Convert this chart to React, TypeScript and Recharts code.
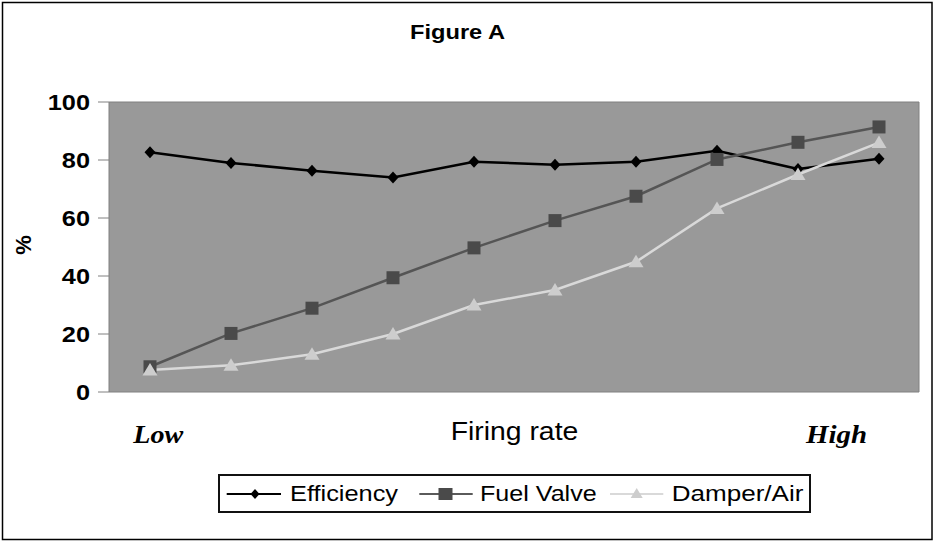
import React from 'react';
import { LineChart, Line, XAxis, YAxis, CartesianGrid, Legend, Customized } from 'recharts';

const categories = ['1', '2', '3', '4', '5', '6', '7', '8', '9', '10'];
const efficiency = [82.7, 79, 76.3, 74, 79.4, 78.4, 79.4, 83.2, 76.9, 80.4];
const fuelValve = [8.7, 20.2, 28.9, 39.4, 49.7, 59.1, 67.5, 80.2, 86.1, 91.4];
const damperAir = [7.6, 9.2, 13, 20, 30, 35.2, 44.9, 63.3, 75, 86];
const yTicks = [0, 20, 40, 60, 80, 100];
const seriesNames = ['Efficiency', 'Fuel Valve', 'Damper/Air'];
const seriesKeys = ['eff', 'fuel', 'damper'];

const data = categories.map((c, i) => ({
  cat: c,
  eff: efficiency[i],
  fuel: fuelValve[i],
  damper: damperAir[i],
}));

const SANS = '"Liberation Sans", Arial, sans-serif';
const SERIF = '"Liberation Serif", "Times New Roman", serif';

const Diamond = ({ cx, cy }: any) =>
  cx == null ? null : (
    <path d={`M${cx},${cy - 6}L${cx + 5.5},${cy}L${cx},${cy + 6}L${cx - 5.5},${cy}Z`} fill="#000" />
  );
const Square = ({ cx, cy }: any) =>
  cx == null ? null : <rect x={cx - 6.5} y={cy - 6.5} width={13} height={13} fill="#4a4a4a" />;
const Triangle = ({ cx, cy }: any) =>
  cx == null ? null : (
    <path d={`M${cx},${cy - 7}L${cx + 7.5},${cy + 5.5}L${cx - 7.5},${cy + 5.5}Z`} fill="#cdcdcd" />
  );

const YTick = ({ x, y, payload }: any) => (
  <g transform={`translate(${x},${y + 8}) scale(1.15,1)`}>
    <text x={0} y={0} textAnchor="end" fontFamily={SANS} fontWeight="bold" fontSize={22} fill="#000">
      {payload.value}
    </text>
  </g>
);

const legendLayout: Record<string, any> = {
  eff: { l1: 8.7, l2: 63, m: 37, tx: 72, tw: 108, stroke: '#000' },
  fuel: { l1: 201.3, l2: 254.7, m: 227.5, tx: 262, tw: 116.7, stroke: '#5a5a5a' },
  damper: { l1: 392, l2: 445.3, m: 418.7, tx: 453.7, tw: 131.7, stroke: '#d9d9d9' },
};

const legendMarker = (key: string, cx: number, cy: number) => {
  if (key === 'eff') return <path d={`M${cx},${cy - 5}L${cx + 4.5},${cy}L${cx},${cy + 5}L${cx - 4.5},${cy}Z`} fill="#000" />;
  if (key === 'fuel') return <rect x={cx - 7} y={cy - 6} width={14} height={12} fill="#4a4a4a" />;
  return <path d={`M${cx},${cy - 6}L${cx + 6},${cy + 4}L${cx - 6},${cy + 4}Z`} fill="#cdcdcd" />;
};

const renderLegend = (props: any) => {
  const payload = props.payload || [];
  return (
    <svg width={593} height={39} style={{ display: 'block' }}>
      <rect x={1} y={1} width={591} height={37} fill="#fff" stroke="#111" strokeWidth={2} />
      {payload.map((entry: any, i: number) => {
        const key = String(entry.dataKey);
        const L = legendLayout[key];
        if (!L) return null;
        return (
          <g key={key}>
            <line x1={L.l1} x2={L.l2} y1={20} y2={20} stroke={L.stroke} strokeWidth={2} />
            {legendMarker(key, L.m, 20)}
            <text
              x={L.tx}
              y={27}
              fontFamily={SANS}
              fontSize={22}
              fill="#000"
              textLength={L.tw}
              lengthAdjust="spacingAndGlyphs"
            >
              {entry.value}
            </text>
          </g>
        );
      })}
    </svg>
  );
};

const Annotations = () => (
  <g>
    <rect x={2.5} y={2.5} width={929.5} height={537} fill="none" stroke="#000" strokeWidth={1.5} />
    <text x={410} y={39.3} fontFamily={SANS} fontWeight="bold" fontSize={20} fill="#000" textLength={95} lengthAdjust="spacingAndGlyphs">
      Figure A
    </text>
    <text
      x={31}
      y={245}
      transform="rotate(-90, 31, 245)"
      textAnchor="middle"
      fontFamily={SANS}
      fontWeight="bold"
      fontSize={22}
      fill="#000"
    >
      %
    </text>
    <text x={133.3} y={443.3} fontFamily={SERIF} fontWeight="bold" fontStyle="italic" fontSize={25} fill="#000" textLength={50} lengthAdjust="spacingAndGlyphs">
      Low
    </text>
    <text x={450.7} y={440} fontFamily={SANS} fontSize={25} fill="#000" textLength={127.6} lengthAdjust="spacingAndGlyphs">
      Firing rate
    </text>
    <text x={806} y={443} fontFamily={SERIF} fontWeight="bold" fontStyle="italic" fontSize={25} fill="#000" textLength={61} lengthAdjust="spacingAndGlyphs">
      High
    </text>
  </g>
);

export default function App() {
  return (
    <div style={{ position: 'absolute', left: 0, top: 0, width: 935, height: 542, background: '#fff' }}>
      <LineChart width={935} height={542} data={data} margin={{ top: 102, right: 0, bottom: 150, left: 0 }}>
        <CartesianGrid vertical={false} stroke="#808080" fill="#999999" />
        <XAxis dataKey="cat" hide padding={{ left: 41, right: 40 }} />
        <YAxis
          yAxisId="left"
          width={109}
          domain={[0, 100]}
          ticks={yTicks}
          interval={0}
          tickSize={11}
          tickMargin={8}
          tick={<YTick />}
          tickLine={{ stroke: '#808080' }}
          axisLine={{ stroke: '#808080' }}
        />
        <YAxis
          yAxisId="right"
          orientation="right"
          width={16}
          domain={[0, 100]}
          tick={false}
          tickLine={false}
          axisLine={{ stroke: '#808080' }}
        />
        <Line
          yAxisId="left"
          name={seriesNames[0]}
          dataKey={seriesKeys[0]}
          stroke="#000"
          strokeWidth={2.5}
          dot={(p: any) => <Diamond key={`e${p.index}`} {...p} />}
          activeDot={false}
          isAnimationActive={false}
        />
        <Line
          yAxisId="left"
          name={seriesNames[1]}
          dataKey={seriesKeys[1]}
          stroke="#555555"
          strokeWidth={2.5}
          dot={(p: any) => <Square key={`f${p.index}`} {...p} />}
          activeDot={false}
          isAnimationActive={false}
        />
        <Line
          yAxisId="left"
          name={seriesNames[2]}
          dataKey={seriesKeys[2]}
          stroke="#d9d9d9"
          strokeWidth={2.5}
          dot={(p: any) => <Triangle key={`d${p.index}`} {...p} />}
          activeDot={false}
          isAnimationActive={false}
        />
        <Legend
          layout="vertical"
          align="center"
          verticalAlign="middle"
          wrapperStyle={{ position: 'absolute', left: 218, top: 474, width: 593, height: 39, margin: 0, padding: 0 }}
          content={renderLegend}
        />
        <Customized component={<Annotations />} />
      </LineChart>
    </div>
  );
}
